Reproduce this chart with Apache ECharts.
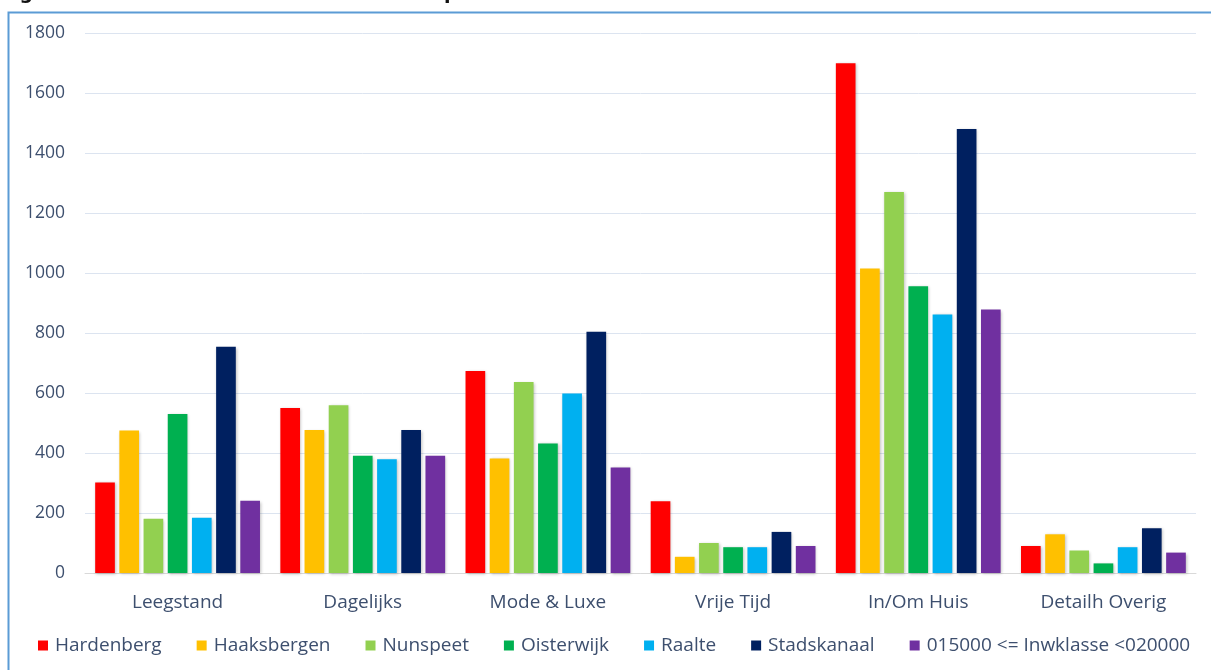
<!DOCTYPE html>
<html>
<head>
<meta charset="utf-8">
<script src="https://cdn.jsdelivr.net/npm/echarts@6/dist/echarts.min.js"></script>
<style>
html,body{margin:0;padding:0;background:#fff;}
#chart{width:1211px;height:670px;}
</style>
</head>
<body>
<div id="chart"></div>
<script>
const categories = ['Leegstand', 'Dagelijks', 'Mode & Luxe', 'Vrije Tijd', 'In/Om Huis', 'Detailh Overig'];
const seriesNames = ['Hardenberg', 'Haaksbergen', 'Nunspeet', 'Oisterwijk', 'Raalte', 'Stadskanaal', '015000 <= Inwklasse <020000'];
const hardenberg  = [302, 550, 673, 239, 1699, 90];
const haaksbergen = [475, 477, 382, 54, 1015, 129];
const nunspeet    = [181, 559, 637, 100, 1270, 75];
const oisterwijk  = [530, 391, 432, 86, 956, 32];
const raalte      = [184, 379, 598, 86, 862, 86];
const stadskanaal = [754, 477, 804, 137, 1480, 149];
const inwklasse   = [241, 391, 352, 90, 878, 68];
const yTicks = { min: 0, max: 1800, interval: 200 };
const titleText = 'Figuur B2.5      Gemiddeld aantal m\u00B2 wvo per 1.000 inwoners';

const values = [hardenberg, haaksbergen, nunspeet, oisterwijk, raalte, stadskanaal, inwklasse];
const colors = ['#FF0000', '#FFC000', '#92D050', '#00B050', '#00B0F0', '#002060', '#7030A0'];
const textColor = '#3D4F6E';
const fontFamily = '"Open Sans", Lato, sans-serif';

const chart = echarts.init(document.getElementById('chart'));
chart.setOption({
  animation: false,
  backgroundColor: '#fff',
  color: colors,
  graphic: [
    {
      type: 'rect', left: 6, top: 10,
      shape: { width: 1300, height: 800 },
      style: { fill: 'none', stroke: '#5B9BD5', lineWidth: 2 },
      z: -10
    },
    {
      type: 'text', left: 0, top: -15,
      style: { text: titleText, font: 'bold 19px "DejaVu Sans", sans-serif', fill: '#111' },
      z: -20
    }
  ],
  grid: { left: 85, right: 15, top: 33, bottom: 97 },
  legend: {
    data: seriesNames,
    left: 33, bottom: 10,
    icon: 'rect', itemWidth: 10, itemHeight: 10, itemGap: 35,
    textStyle: { fontSize: 19, color: textColor, fontFamily: fontFamily, padding: [0, 0, 0, 2] }
  },
  xAxis: {
    type: 'category',
    data: categories,
    axisLine: { show: true, lineStyle: { color: '#D9D9D9' } },
    axisTick: { show: false },
    axisLabel: { fontSize: 19, color: textColor, fontFamily: fontFamily, margin: 20 }
  },
  yAxis: {
    type: 'value',
    min: yTicks.min, max: yTicks.max, interval: yTicks.interval,
    axisLine: { show: false },
    axisTick: { show: false },
    splitLine: { lineStyle: { color: '#DCE4F0', width: 1 } },
    axisLabel: { fontSize: 17.5, color: textColor, fontFamily: fontFamily, margin: 20,
      formatter: v => String(v) }
  },
  series: seriesNames.map((name, i) => ({
    name: name,
    type: 'bar',
    data: values[i],
    barGap: '23%',
    barCategoryGap: '11%',
    itemStyle: {
      color: colors[i],
      shadowColor: 'rgba(0,0,0,0.25)',
      shadowBlur: 3,
      shadowOffsetX: 1,
      shadowOffsetY: 1
    }
  }))
});
</script>
</body>
</html>
